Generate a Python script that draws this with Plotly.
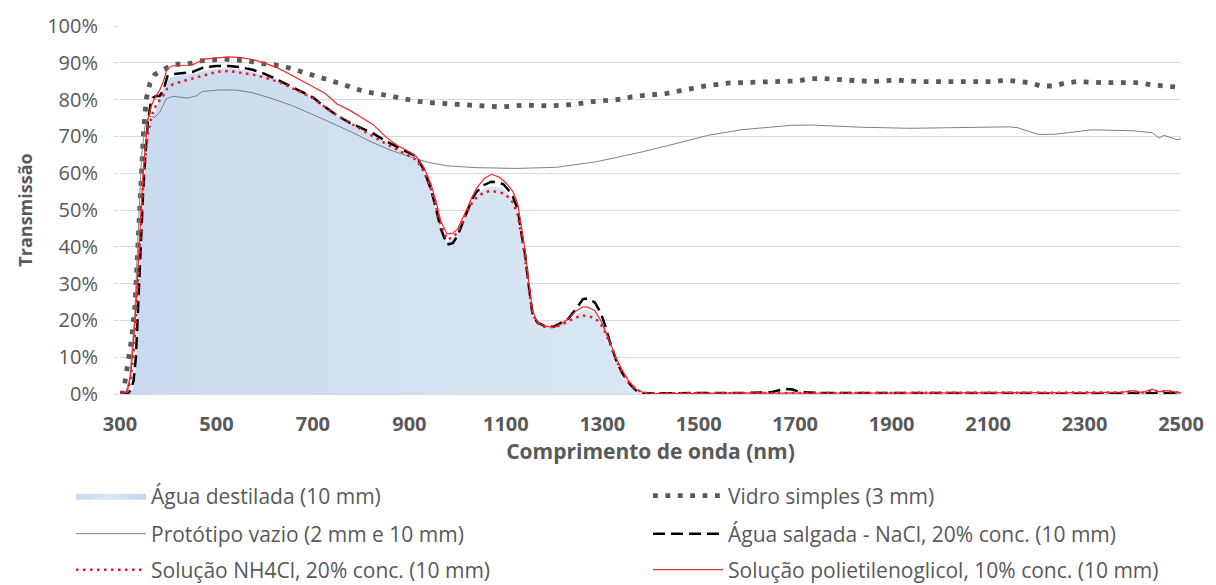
import plotly.graph_objects as go

# ---------------- data ----------------
wl_vidro = [300, 306, 310, 317, 324, 331, 334, 338, 341, 345, 349, 355, 362, 372, 390,
            413, 438, 465, 490, 516, 543, 567, 591, 619, 643, 667, 691, 715, 739, 763,
            787, 810, 835, 862, 886, 913, 937, 989, 1040, 1064, 1089, 1139, 1190, 1240,
            1290, 1342, 1362, 1434, 1458, 1509, 1561, 1609, 1660, 1708, 1732, 1760, 1808,
            1859, 1910, 1958, 2010, 2061, 2113, 2137, 2185, 2209, 2236, 2260, 2284, 2335,
            2387, 2414, 2438, 2486, 2500]
t_vidro = [0, 0.5, 3, 8.7, 15, 24, 33, 45, 55, 63, 72, 80.5, 84.4, 86.8, 88.2,
           89.6, 89.6, 90.5, 90.9, 91.0, 90.7, 90.5, 89.8, 89.5, 88.9, 88.0, 87.1, 86.0, 85.1, 84.1,
           83.0, 82.1, 81.6, 80.9, 80.1, 79.6, 79.2, 78.7, 78.4, 78.3, 78.0, 78.5, 78.3, 78.7,
           79.6, 80.1, 80.8, 81.7, 82.4, 83.6, 84.5, 84.8, 85.1, 85.1, 85.7, 85.7, 85.3,
           84.9, 85.3, 84.9, 84.9, 84.9, 84.9, 85.3, 84.6, 83.7, 83.7, 84.5, 84.9, 84.6,
           84.6, 84.6, 84.0, 83.5, 83.3]

wl_proto = [300, 312, 320, 330, 338, 345, 352, 360, 372, 382, 396, 410, 440, 458, 471,
            505, 540, 574, 615, 656, 697, 739, 780, 821, 862, 903, 937, 978, 1040, 1122,
            1205, 1287, 1383, 1451, 1492, 1520, 1588, 1691, 1733, 1835, 1938, 2041, 2143,
            2160, 2205, 2240, 2280, 2315, 2404, 2440, 2455, 2465, 2492, 2500]
t_proto = [0, 0.5, 4, 20, 45, 65, 73, 75.5, 75.2, 76.5, 80.2, 80.9, 80.4, 81.0, 82.2,
           82.6, 82.6, 81.9, 80.3, 78.4, 76.1, 73.7, 71.2, 68.5, 66.2, 64.4, 63.0, 62.0, 61.5, 61.3,
           61.6, 63.1, 65.8, 68.0, 69.3, 70.3, 71.8, 73.0, 73.1, 72.5, 72.2, 72.5, 72.6,
           72.4, 70.5, 70.6, 71.3, 71.8, 71.5, 71.0, 69.6, 70.3, 69.1, 69.3]

wl_agua = [300, 315, 322, 328, 333, 338, 343, 348, 353, 358, 363, 368, 375, 382, 390,
           398, 410, 430, 450, 475, 500, 525, 550, 575, 600, 625, 650, 675, 700, 725,
           750, 775, 800, 825, 850, 875, 900, 915, 930, 945, 955, 965, 978, 990, 1000,
           1010, 1020, 1030, 1040, 1055, 1070, 1085, 1095, 1105, 1115, 1125, 1132, 1140, 1148,
           1155, 1165, 1180, 1200, 1215, 1230, 1245, 1260, 1270, 1285, 1297, 1305, 1315, 1328,
           1340, 1355, 1370, 1385, 1400, 1450, 1500, 1550, 1600, 1650, 1680, 1695, 1710, 1750,
           1800, 1900, 2000, 2100, 2200, 2300, 2380, 2400, 2420, 2440, 2455, 2470, 2500]

t_destilada = [0, 0, 0.5, 2, 8, 22, 40, 53, 64, 71, 74, 75.5, 77.5, 80, 83,
               85.5, 86.2, 86.5, 87, 87.8, 88.3, 88.5, 88.2, 87.5, 86.5, 85.2, 83.6, 82, 80.5, 78,
               75.7, 73.8, 72, 70.3, 68.4, 66.7, 65, 64, 60.8, 55.5, 50.8, 45.5, 41.5, 42, 43.5,
               46.5, 49.8, 52.5, 54.3, 55.8, 56.4, 56.2, 55.8, 54.5, 52.8, 49.3, 43.5, 37.5, 28.8,
               22, 19.4, 18.4, 18.2, 19.1, 20.1, 21.5, 22.8, 22.8, 22, 20, 17.5, 14.3, 9.5,
               6.1, 3.1, 1.1, 0.3, 0.1, 0.1, 0.1, 0.1, 0.1, 0.1, 0.2, 0.1, 0.1, 0.1,
               0.1, 0.1, 0.1, 0.1, 0.1, 0.1, 0.1, 0.1, 0.1, 0.1, 0.1, 0.1, 0.1]

t_nacl = [0, 0, 1, 3.5, 10, 25, 42, 55, 66, 74, 78.5, 80.5, 81, 81, 82.5,
          86.3, 86.9, 87.1, 87.5, 88.8, 89.1, 89.1, 88.8, 88.1, 87, 85.5, 83.8, 82.3, 80.6, 78,
          75.7, 73.8, 72.4, 70.8, 68.8, 67.2, 65.6, 64.5, 61, 55.5, 50.5, 45, 40.6, 41, 43,
          46.5, 50, 53, 55, 56.8, 57.7, 57.5, 57, 55.5, 53.5, 50, 44, 38, 29,
          22, 19.5, 18.5, 18.3, 19.5, 20.5, 23, 25.8, 26, 24.8, 22, 19, 14.5, 9.5,
          6, 3, 1, 0.3, 0.2, 0.2, 0.3, 0.2, 0.3, 0.5, 1.4, 1.2, 0.5, 0.3,
          0.3, 0.2, 0.3, 0.2, 0.3, 0.3, 0.3, 0.4, 0.3, 0.4, 0.3, 0.3, 0.2]

t_nh4cl = [0, 0.5, 4, 11, 20, 33, 46, 57, 65, 71, 74, 76.5, 78.5, 79.7, 81.2,
           83, 84.2, 85, 85.7, 86.7, 87.5, 87.8, 87.3, 86.8, 86, 85, 83.6, 82, 80.4, 78,
           75.7, 73.8, 71.8, 70, 68.1, 66.4, 64.6, 63.6, 60.5, 55.5, 51, 46, 42, 42.5, 44,
           46.5, 49.5, 52, 53.5, 54.8, 55.2, 54.8, 54.5, 53.5, 52, 48.5, 43, 37, 28.5,
           22, 19.3, 18.3, 18.1, 18.8, 19.8, 20.8, 21.3, 21.2, 20.6, 19, 17, 14, 9.5,
           6.3, 3.2, 1.2, 0.4, 0.2, 0.2, 0.2, 0.3, 0.2, 0.3, 0.3, 0.4, 0.3, 0.2,
           0.3, 0.2, 0.2, 0.3, 0.2, 0.3, 0.4, 0.7, 0.4, 1.0, 0.6, 0.8, 0.3]

t_peg = [0, 0.5, 5, 14, 24, 37, 50, 60, 68, 74.5, 77.5, 79.3, 81, 82.5, 85,
         88.5, 89.2, 89.3, 89.4, 91, 91.4, 91.6, 91.4, 90.9, 89.9, 88.7, 87, 85.2, 83.6, 81.7,
         78.8, 77.2, 75.2, 73.2, 70, 67.5, 65.8, 64.5, 61.6, 57, 52.5, 47, 43.5, 43.7, 44.8,
         47.5, 50.5, 53.5, 56, 58.5, 59.7, 59, 58, 56.7, 55, 51.5, 45, 39, 30,
         23, 19.5, 18.5, 18.1, 19, 20.5, 22.5, 23.7, 23.6, 22.6, 20, 17.5, 14.5, 10,
         6.8, 3.5, 1.3, 0.4, 0.2, 0.1, 0.2, 0.2, 0.3, 0.2, 0.4, 0.3, 0.2, 0.2,
         0.3, 0.2, 0.3, 0.3, 0.2, 0.4, 0.5, 0.9, 0.4, 1.3, 0.6, 0.9, 0.3]

x_ticks = list(range(300, 2501, 200))
y_ticks = list(range(0, 101, 10))

names = ["Água destilada (10 mm)", "Vidro simples (3 mm)",
         "Protótipo vazio (2 mm e 10 mm)", "Água salgada - NaCl, 20% conc. (10 mm)",
         "Solução NH4Cl, 20% conc. (10 mm)", "Solução polietilenoglicol, 10% conc. (10 mm)"]

# ---------------- figure ----------------
TXT = "#595959"
FONT = "Open Sans"

fig = go.Figure()
fig.add_trace(go.Scatter(
    x=wl_agua, y=t_destilada, name=names[0], mode="lines",
    line=dict(width=0, color="rgba(0,0,0,0)"),
    fill="tozeroy", fillcolor="#d0e0f1",
    fillgradient=dict(type="horizontal",
                      colorscale=[[0, "#c8daee"], [0.5, "#dbe7f4"], [1, "#c3d6ec"]]),
    legend="legend"))
fig.add_trace(go.Scatter(
    x=wl_vidro, y=t_vidro, name=names[1], mode="lines",
    line=dict(color="#5a5a5a", width=4.8, dash="4.8px,7.6px"), legend="legend2"))
fig.add_trace(go.Scatter(
    x=wl_proto, y=t_proto, name=names[2], mode="lines",
    line=dict(color="#808080", width=1), legend="legend3"))
fig.add_trace(go.Scatter(
    x=wl_agua, y=t_nacl, name=names[3], mode="lines",
    line=dict(color="#000000", width=2.5, dash="12px,6px"), legend="legend4"))
fig.add_trace(go.Scatter(
    x=wl_agua, y=t_nh4cl, name=names[4], mode="lines",
    line=dict(color="#e8192c", width=2.5, dash="2.5px,4.5px"), legend="legend5"))
fig.add_trace(go.Scatter(
    x=wl_agua, y=t_peg, name=names[5], mode="lines",
    line=dict(color="#f02828", width=1.2), legend="legend6"))

leg_common = dict(orientation="h", xref="container", yref="container",
                  xanchor="left", yanchor="middle",
                  itemwidth=70, bgcolor="rgba(0,0,0,0)",
                  font=dict(family=FONT, size=21, color=TXT), itemclick=False)

col_x = [71, 648]
row_y = [496, 534, 570]
legends = {}
for i in range(6):
    key = "legend" if i == 0 else f"legend{i + 1}"
    legends[key] = dict(**leg_common, x=col_x[i % 2] / 1216, y=1 - row_y[i // 2] / 585)

fig.update_layout(
    width=1216, height=585,
    margin=dict(l=120, r=26, t=23, b=191),
    paper_bgcolor="white", plot_bgcolor="white",
    showlegend=True,
    **legends,
    xaxis=dict(range=[300, 2500], tickvals=x_ticks, ticktext=[str(v) for v in x_ticks],
               showgrid=False, zeroline=False, showline=True, linecolor="#d9d9d9",
               linewidth=1, ticks="", ticklabelstandoff=12,
               tickfont=dict(family=FONT, size=20, color=TXT, weight="bold"),
               title=dict(text="Comprimento de onda (nm)", standoff=7,
                          font=dict(family=FONT, size=21, color=TXT, weight="bold"))),
    yaxis=dict(range=[0, 100], tickvals=y_ticks, ticktext=[f"{v}%" for v in y_ticks],
               showgrid=True, gridcolor="#d9d9d9", gridwidth=1, zeroline=False,
               showline=False, ticks="outside", ticklen=5, tickcolor="#d9d9d9",
               ticklabelstandoff=12,
               tickfont=dict(family=FONT, size=20, color=TXT),
               title=dict(text="Transmissão", standoff=9,
                          font=dict(family=FONT, size=18, color=TXT, weight="bold"))),
)

fig.write_html("out.html")
